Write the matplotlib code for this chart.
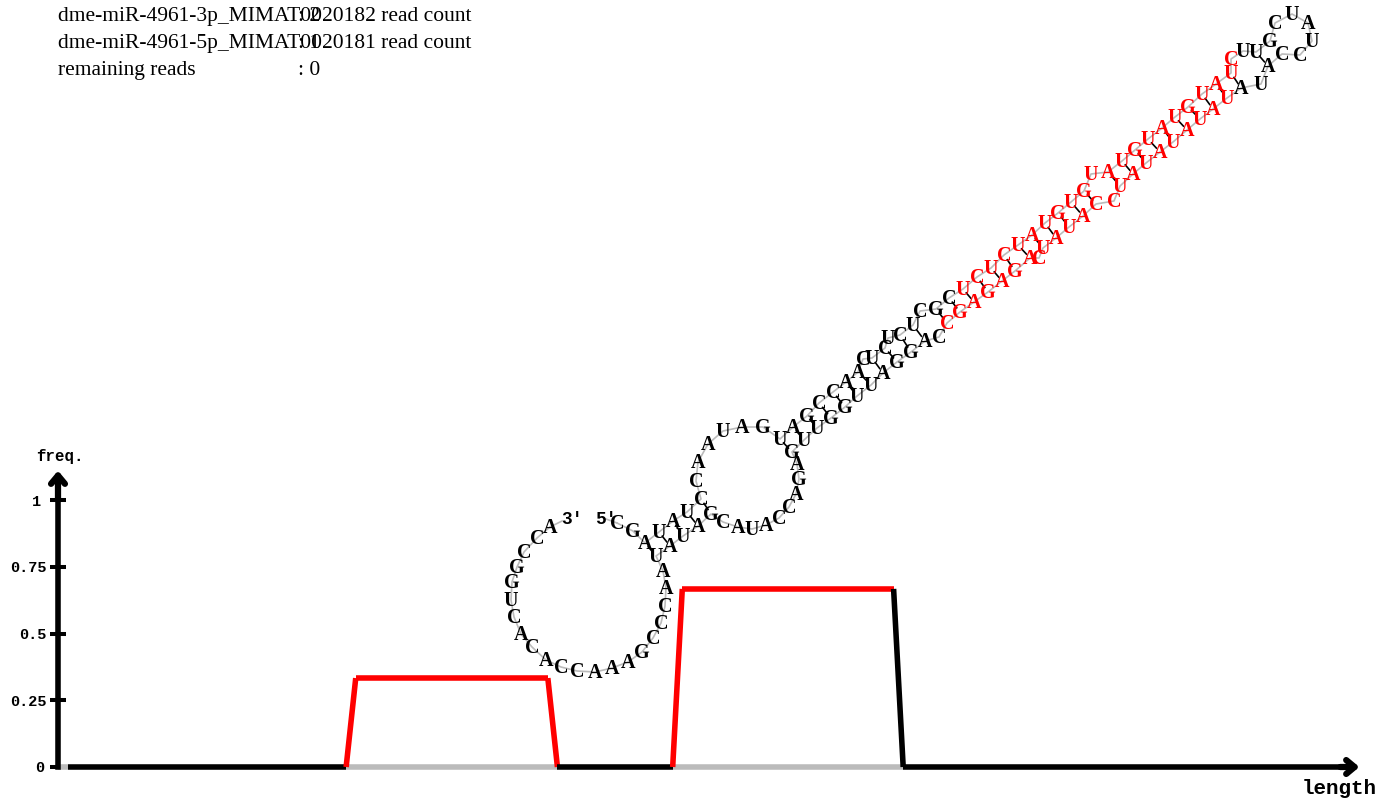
from matplotlib import pyplot as plt
from matplotlib.transforms import ScaledTranslation

# rna structure, 5' to 3', positions (pixels)
bases = list('CGAUAUCCAA' 'UAGUAGCCAA' 'CUCUCUCGCU' 'CUCUAUGUGU' 'AUGUAUGUAU'
             'CUUGCUAUCC' 'AUAUAUAUAU' 'AUCCAUAUCA' 'GAGAGCCAGG' 'AUUGGUUGAG'
             'ACCAUACGAU' 'AUAACCCGAA' 'ACCACACUGG' 'CCA')
base_x = [617, 633, 645, 659, 673, 687, 701, 696, 698, 708, 723, 742, 763, 780, 793, 807, 819, 833, 846, 858,
          863, 872, 885, 888, 900, 913, 920, 936, 949, 963, 977, 991, 1004, 1018, 1032, 1045, 1058, 1071, 1084, 1091,
          1108, 1122, 1135, 1148, 1162, 1175, 1188, 1202, 1216, 1231, 1231, 1243, 1256, 1270, 1275, 1292, 1308, 1312, 1300, 1282,
          1268, 1261, 1241, 1227, 1213, 1200, 1187, 1173, 1160, 1146, 1133, 1120, 1114, 1096, 1083, 1069, 1056, 1043, 1039, 1030,
          1015, 1002, 988, 974, 960, 947, 939, 925, 911, 897, 883, 871, 857, 845, 831, 817, 804, 792, 797, 799,
          796, 789, 779, 766, 752, 738, 723, 711, 698, 683, 670, 656, 663, 666, 665, 661, 653, 642, 628, 612,
          595, 577, 561, 546, 532, 521, 514, 511, 512, 517, 524, 537, 550]
base_y = [523, 531, 543, 532, 521, 512, 499, 481, 462, 444, 431, 427, 427, 439, 427, 416, 403, 392, 382, 372,
          359, 358, 348, 338, 335, 325, 311, 309, 298, 289, 277, 268, 255, 245, 235, 223, 213, 202, 191, 174,
          172, 161, 150, 139, 128, 117, 107, 94, 84, 73, 59, 51, 52, 41, 23, 14, 23, 41, 55, 54,
          66, 84, 88, 98, 109, 119, 130, 142, 152, 163, 174, 186, 201, 204, 216, 227, 238, 248, 258, 258,
          271, 281, 292, 302, 312, 323, 337, 341, 352, 362, 373, 385, 396, 407, 418, 428, 440, 452, 464, 479,
          494, 507, 518, 525, 529, 527, 522, 514, 526, 536, 546, 556, 571, 588, 606, 623, 638, 652, 662, 668,
          672, 671, 667, 660, 647, 634, 617, 600, 582, 567, 552, 538, 527]
mature_bases = [(29, 50), (63, 85)]
pairs = [(2, 111), (3, 110), (4, 109), (5, 108), (6, 107), (13, 97), (14, 96), (15, 95), (16, 94), (17, 93),
         (18, 92), (19, 91), (21, 90), (22, 89), (24, 88), (25, 87), (27, 85), (28, 84), (29, 83), (30, 82),
         (31, 81), (32, 80), (33, 79), (34, 77), (35, 76), (36, 75), (37, 74), (38, 73), (40, 71), (41, 70),
         (42, 69), (43, 68), (44, 67), (45, 66), (46, 65), (47, 64), (48, 63), (49, 62), (52, 60)]

# coverage per position along the precursor
freq = [0, 0, 0, 0, 0, 0, 0, 0, 0, 0, 0, 0, 0, 0, 0, 0, 0, 0, 0, 0, 0, 0, 0, 0, 0, 0, 0, 0, 0, 0, 0,
        0.333, 0.333, 0.333, 0.333, 0.333, 0.333, 0.333, 0.333, 0.333, 0.333, 0.333,
        0.333, 0.333, 0.333, 0.333, 0.333, 0.333, 0.333, 0.333, 0.333, 0.333,
        0, 0, 0, 0, 0, 0, 0, 0, 0, 0, 0, 0, 0,
        0.667, 0.667, 0.667, 0.667, 0.667, 0.667, 0.667, 0.667, 0.667, 0.667, 0.667, 0.667,
        0.667, 0.667, 0.667, 0.667, 0.667, 0.667, 0.667, 0.667, 0.667, 0.667, 0.667,
        0, 0, 0, 0, 0, 0, 0, 0, 0, 0, 0, 0, 0, 0, 0, 0, 0, 0, 0, 0, 0, 0, 0,
        0, 0, 0, 0, 0, 0, 0, 0, 0, 0, 0, 0, 0, 0, 0, 0, 0, 0, 0, 0, 0, 0, 0, 0]
red_segments = [(30, 51), (64, 86)]
gray_segments = [(0, 0), (30, 51), (64, 87)]
freq_ticks = [0, 0.25, 0.5, 0.75, 1]
freq_labels = ['0', '0.25', '0.5', '0.75', '1']

read_labels = ['dme-miR-4961-3p_MIMAT0020182 read count', 'dme-miR-4961-5p_MIMAT0020181 read count', 'remaining reads']
read_counts = [': 2', ': 1', ': 0']

W, H = 1398, 810
MONO = 'Liberation Mono'
SERIF = 'Liberation Serif'


def in_range(i, ranges):
    return any(a <= i <= b for a, b in ranges)


fig = plt.figure(figsize=(W / 100, H / 100), dpi=100, facecolor='white')

# coverage axes, 0 at y=767 and 1 at y=500
ax = fig.add_axes([58 / W, (H - 767) / H, (1345 - 58) / W, 287 / H])
ax.set_xlim(0, 134)
ax.set_ylim(0, 287 / 267)
ax.patch.set_alpha(0)
for s in ['top', 'right', 'bottom']:
    ax.spines[s].set_visible(False)
ax.spines['left'].set_linewidth(4)
ax.set_xticks([])
ax.set_yticks(freq_ticks)
ax.set_yticklabels(freq_labels, family=MONO, weight='bold', fontsize=11)
ax.tick_params(axis='y', direction='inout', length=11.5, width=2.9, pad=2.5)
# the 0 and 1 labels sit further left than the others
for label in ax.get_yticklabels():
    if label.get_text() == '1':
        label.set_transform(label.get_transform() + ScaledTranslation(-5 / 100, 0, fig.dpi_scale_trans))
    if label.get_text() == '0':
        label.set_transform(label.get_transform() + ScaledTranslation(-2 / 100, 0, fig.dpi_scale_trans))

for i in range(len(freq) - 1):
    if in_range(i, gray_segments):
        ax.plot([i, i + 1], [0, 0], color='#bbbbbb', lw=4, solid_capstyle='butt', clip_on=False, zorder=2)
    color = 'red' if in_range(i, red_segments) else 'black'
    if i == 0:
        continue
    if freq[i] == 0 and freq[i + 1] == 0 and in_range(i, gray_segments):
        continue
    ax.plot([i, i + 1], [freq[i], freq[i + 1]], color=color, lw=4, solid_capstyle='butt', clip_on=False, zorder=3)

arrow = dict(arrowstyle='->,head_length=0.6,head_width=0.5', color='black', lw=4.5, shrinkA=0, shrinkB=0)
ax.annotate('', xy=(0, 1.11), xytext=(0, 1.0), arrowprops=arrow, annotation_clip=False)
ax.annotate('', xy=(135.5, 0), xytext=(133.5, 0), arrowprops=arrow, annotation_clip=False)

# everything else is placed in picture pixels
top = fig.add_axes([0, 0, 1, 1])
top.set_xlim(0, W)
top.set_ylim(H, 0)
top.axis('off')
top.patch.set_alpha(0)

top.text(60, 457, 'freq.', family=MONO, weight='bold', fontsize=11.3, ha='center', va='center')
top.text(1339, 788, 'length', family=MONO, weight='bold', fontsize=15, ha='center', va='center')

for n, (label, count) in enumerate(zip(read_labels, read_counts)):
    top.text(58, 21 + 27 * n, label, family=SERIF, fontsize=15.5, va='baseline')
    top.text(298, 21 + 27 * n, count, family=SERIF, fontsize=15.5, va='baseline')

top.plot(base_x, base_y, color='#bbbbbb', lw=1.2, zorder=1)
top.plot([base_x[-1], 562], [base_y[-1], 521], color='#bbbbbb', lw=1.2, zorder=1)
top.plot([606, base_x[0]], [519, base_y[0]], color='#bbbbbb', lw=1.2, zorder=1)
for a, b in pairs:
    dx, dy = base_x[b] - base_x[a], base_y[b] - base_y[a]
    top.plot([base_x[a] + 0.3 * dx, base_x[b] - 0.3 * dx], [base_y[a] + 0.3 * dy, base_y[b] - 0.3 * dy],
             color='black', lw=1.2, zorder=2)
for i, (b, x, y) in enumerate(zip(bases, base_x, base_y)):
    top.text(x, y + 1, b, family=SERIF, weight='bold', fontsize=14.5, ha='center', va='center', zorder=3,
             color='red' if in_range(i, mature_bases) else 'black')
top.text(572, 520, "3'", family=MONO, weight='bold', fontsize=13, ha='center', va='center', zorder=3)
top.text(606, 519, "5'", family=MONO, weight='bold', fontsize=13, ha='center', va='center', zorder=3)

fig.savefig('out.png', dpi=100)
